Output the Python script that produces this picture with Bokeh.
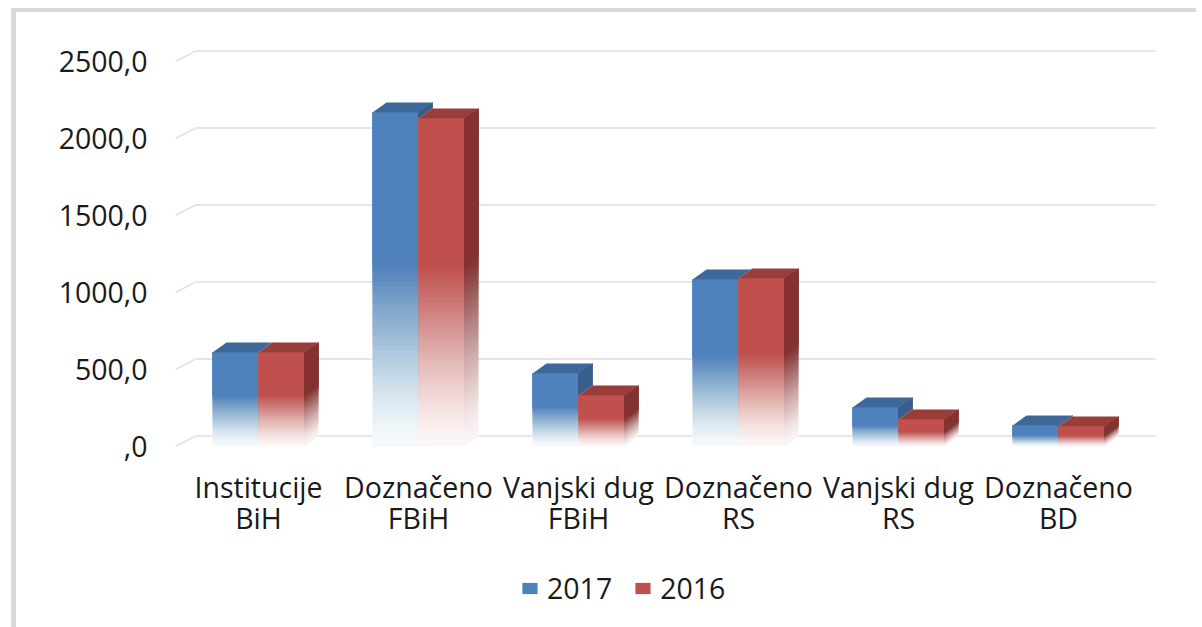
import numpy as np
from bokeh.plotting import figure
from bokeh.layouts import column
from bokeh.models import ColumnDataSource, FixedTicker, Legend, LegendItem
from bokeh.embed import file_html
from bokeh.resources import INLINE

# ---------------- data ----------------
categories = ["Institucije\nBiH", "Doznačeno\nFBiH", "Vanjski dug\nFBiH",
              "Doznačeno\nRS", "Vanjski dug\nRS", "Doznačeno\nBD"]
values_2017 = [610, 2169, 474, 1084, 253, 136]
values_2016 = [610, 2130, 331, 1091, 175, 130]
series_names = ["2017", "2016"]
y_ticks = [0, 500, 1000, 1500, 2000, 2500]
y_tick_labels = [",0", "500,0", "1000,0", "1500,0", "2000,0", "2500,0"]

# ---------------- style ----------------
FONT = "Open Sans"
FS = "28.5px"
TXT = "#1a1a1a"
BAR_W = 0.2875          # width of one bar (category slot = 1)
DX, DY = 0.0875, 65     # 3D depth offset of bars
WALL_DX, WALL_DY = 0.106, 68   # depth of back wall
FADE = 0.55             # bottom fraction of bar that fades to white
NSL = 40
colors = {
    "2017": dict(front="#4f81bd", top="#3d6898", side="#395d8a"),
    "2016": dict(front="#c0504d", top="#9a3c3a", side="#843230"),
}

W, H, H2 = 1180, 540, 75
p = figure(width=W, height=H, output_backend="svg", toolbar_location=None,
           x_range=(0.48125, 6.6375), y_range=(-90.9, 2636.4),
           min_border_left=159, min_border_right=36, min_border_top=28,
           min_border_bottom=92, background_fill_color="white",
           border_fill_color="white", outline_line_color=None)
p.grid.visible = False

# ---------------- gridlines on back wall ----------------
x_front = 0.48
x_wall0 = 0.5 + WALL_DX
x_wall1 = 6.5 + WALL_DX
gy = np.array(y_ticks, dtype=float)
p.segment(x0=[x_front] * len(gy), y0=gy, x1=[x_wall0] * len(gy), y1=gy + WALL_DY,
          line_color="#e6e6e6", line_width=2)
p.segment(x0=[x_wall0] * len(gy), y0=gy + WALL_DY, x1=[x_wall1] * len(gy), y1=gy + WALL_DY,
          line_color="#e6e6e6", line_width=2)

# ---------------- 3D bars ----------------
cat_x = np.arange(1, len(categories) + 1)

prof = 0.05 + 0.95 * ((np.arange(NSL) + 0.5) / NSL) ** 1.4
layer_alpha = [prof[0]]
for k in range(1, NSL):
    layer_alpha.append(1 - (1 - prof[k]) / (1 - prof[k - 1]))


def bar_parts(vals, left_offset):
    under_xs, under_ys = [], []
    f = dict(left=[], right=[], bottom=[], top=[], alpha=[])
    s = dict(xs=[], ys=[], alpha=[])
    t = dict(xs=[], ys=[])
    for c, v in zip(cat_x, vals):
        xl = c + left_offset
        xr = xl + BAR_W
        under_xs.append([xl, xr, xr + DX, xr + DX, xl + DX, xl])
        under_ys.append([0, 0, DY, v + DY, v + DY, v])
        fade_top = FADE * v
        edges = list(np.linspace(0, fade_top, NSL + 1))
        for k in range(NSL + 1):
            y0 = edges[k]
            a = layer_alpha[k] if k < NSL else 1.0
            f["left"].append(xl); f["right"].append(xr)
            f["bottom"].append(y0); f["top"].append(v); f["alpha"].append(a)
            s["xs"].append([xr, xr + DX, xr + DX, xr])
            s["ys"].append([y0, y0 + DY, v + DY, v])
            s["alpha"].append(a)
        t["xs"].append([xl, xr, xr + DX, xl + DX])
        t["ys"].append([v, v, v + DY, v + DY])
    return (under_xs, under_ys), f, s, t


for name, vals, off in [("2017", values_2017, -BAR_W), ("2016", values_2016, 0.0)]:
    col = colors[name]
    (uxs, uys), f, s, t = bar_parts(vals, off)
    p.patches(xs=uxs, ys=uys, fill_color="white", line_color=None)
    p.quad(source=ColumnDataSource(f), left="left", right="right", bottom="bottom",
           top="top", fill_color=col["front"], fill_alpha="alpha", line_color=None)
    p.patches(source=ColumnDataSource(s), xs="xs", ys="ys", fill_color=col["side"],
              fill_alpha="alpha", line_color=None)
    p.patches(source=ColumnDataSource(t), xs="xs", ys="ys", fill_color=col["top"],
              line_color=None)

# ---------------- axes ----------------
ya = p.yaxis[0]
ya.ticker = FixedTicker(ticks=y_ticks)
ya.major_label_overrides = {t: l for t, l in zip(y_ticks, y_tick_labels)}
ya.axis_line_color = None
ya.major_tick_line_color = None
ya.minor_tick_line_color = None
ya.major_tick_in = 0
ya.major_tick_out = 0
ya.major_label_standoff = 28
ya.major_label_text_font = FONT
ya.major_label_text_font_size = FS
ya.major_label_text_color = TXT

xa = p.xaxis[0]
xa.ticker = FixedTicker(ticks=list(cat_x))
xa.major_label_overrides = {int(c): lab for c, lab in zip(cat_x, categories)}
xa.axis_line_color = None
xa.major_tick_line_color = None
xa.minor_tick_line_color = None
xa.major_tick_in = 0
xa.major_tick_out = 0
xa.major_label_standoff = 7
xa.major_label_text_font = FONT
xa.major_label_text_font_size = FS
xa.major_label_text_line_height = 0.82
xa.major_label_text_color = TXT

# ---------------- legend (separate strip below the chart) ----------------
p2 = figure(width=W, height=H2, output_backend="svg", toolbar_location=None,
            min_border=0, outline_line_color=None, x_range=(0, 1), y_range=(0, 1),
            background_fill_color="white", border_fill_color="white")
p2.axis.visible = False
p2.grid.visible = False
items = []
for name in series_names:
    # legend swatch renderer; its single box lies outside the visible range
    r = p2.quad(left=[5], right=[6], bottom=[5], top=[6],
                fill_color=colors[name]["front"], line_color=None)
    items.append(LegendItem(label=name, renderers=[r]))
legend = Legend(items=items, orientation="horizontal", location=(345, 20),
                glyph_width=19, glyph_height=14, label_standoff=8, spacing=21,
                padding=0, margin=0, border_line_color=None,
                background_fill_alpha=0, label_text_font=FONT,
                label_text_font_size=FS, label_text_color=TXT)
p2.add_layout(legend, "center")

layout = column(p, p2, spacing=0,
                styles={"border-top": "4px solid #d9d9d9",
                        "border-left": "5px solid #d9d9d9",
                        "margin-left": "11px", "margin-top": "8px"})

open("out.html", "w").write(file_html(layout, INLINE))
